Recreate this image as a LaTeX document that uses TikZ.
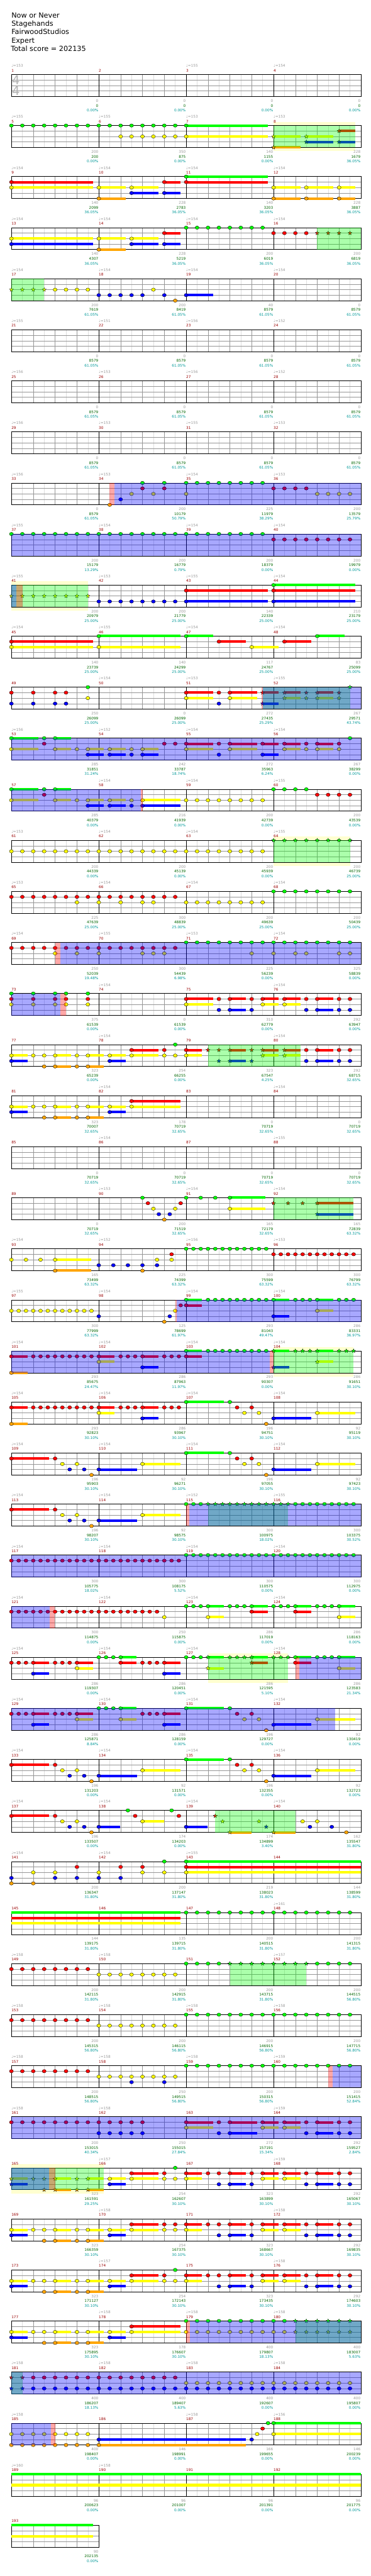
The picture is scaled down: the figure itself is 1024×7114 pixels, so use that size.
\documentclass[tikz,border=0pt]{standalone}
\usepackage{fontspec}
\setmainfont{DejaVu Sans}
\usetikzlibrary{shapes.geometric}
\definecolor{lane0}{RGB}{0,255,0}
\definecolor{lane1}{RGB}{255,0,0}
\definecolor{lane2}{RGB}{255,255,0}
\definecolor{lane3}{RGB}{0,0,255}
\definecolor{lane4}{RGB}{255,165,0}
\definecolor{mred}{RGB}{153,0,0}
\definecolor{lgrey}{RGB}{153,153,153}
\definecolor{lgreen}{RGB}{0,102,0}
\definecolor{lteal}{RGB}{0,153,153}
\definecolor{midgrey}{RGB}{150,150,150}
\definecolor{faint}{RGB}{222,222,222}
\definecolor{tsgrey}{RGB}{180,180,180}
\definecolor{bandyel}{RGB}{255,255,208}
\tikzset{
  chartrow/.style={shift={(31.5,{205.7+141*(#1-1)})}, x=60.33pt, y=-15.12pt},
  note/.style={draw=black, line width=0.6pt},
  starnote/.style={star, star points=5, star point ratio=2.4, minimum size=11.5pt, inner sep=0pt, draw=black, line width=0.5pt},
  eighthline/.style={draw=faint, line width=0.6pt},
  beatline/.style={draw=midgrey, line width=0.7pt},
  laneline/.style={draw=midgrey, line width=0.9pt},
  barline/.style={draw=black, line width=0.6pt},
  frame/.style={draw=black, line width=1.2pt},
  spgreen/.style={fill=lane0, fill opacity=0.33},
  spblue/.style={fill=lane3, fill opacity=0.34},
  spred/.style={fill=lane1, fill opacity=0.34},
  spband/.style={fill=bandyel},
  title/.style={anchor=base west, inner sep=0pt, font=\fontsize{19.5}{23}\selectfont},
  small/.style={inner sep=0pt, font=\fontsize{10}{12}\selectfont},
  mnum/.style={small, anchor=base west, yshift=7.7pt, text=mred},
  tempo/.style={small, anchor=base west, yshift=20.4pt, text=lgrey},
  lgray/.style={small, anchor=base east, xshift=-1pt, yshift=-15.8pt, text=lgrey},
  lscore/.style={small, anchor=base east, xshift=-1pt, yshift=-29.1pt, text=lgreen},
  lpct/.style={small, anchor=base east, xshift=-1pt, yshift=-42.1pt, text=lteal},
  timesig/.style={inner sep=0pt, font=\fontsize{34}{36}\selectfont, text=tsgrey}
}
% notes, stars and sustains (lane 0 = green ... lane 4 = orange)
\newcommand\nt[2]{\filldraw[note,fill=lane#1] ({#2},#1) ellipse [x radius=5.5pt,y radius=4.7pt];}
\newcommand\st[2]{\node[starnote,fill=lane#1] at ({#2},#1) {};}
\newcommand\nts[2]{\foreach \pp in {#2}{\nt{#1}{\pp}}}
\newcommand\sts[2]{\foreach \pp in {#2}{\st{#1}{\pp}}}
\newcommand\runn[4]{\foreach \kk in {1,...,#3}{\nt{#1}{#2+(\kk-1)*#4}}}
\newcommand\sruns[4]{\foreach \kk in {1,...,#3}{\st{#1}{#2+(\kk-1)*#4}}}
\newcommand\tailbar[3]{\fill[lane#1] ({#2},{#1-0.23}) rectangle ({#3},{#1+0.23});}
\newcommand\hold[3]{\tailbar{#1}{#2}{#3}\nt{#1}{#2}}
\newcommand\shold[3]{\tailbar{#1}{#2}{#3}\st{#1}{#2}}
\newcommand\trio[3]{\nts{#1}{#2,#2+0.3333,#2+0.6667}\hold{#1}{#2+1}{#3}}
% star power phrases and activations
\newcommand\sgreen[2]{\fill[spgreen] (#1,0) rectangle (#2,4);}
\newcommand\sblue[2]{\fill[spblue] (#1,0) rectangle (#2,4);}
\newcommand\sred[2]{\fill[spred] (#1,0) rectangle (#2,4);}
\newcommand\sband[2]{\fill[spband] (#1,-0.68) rectangle (#2,4.68);}
% staff of one row
\newcommand\chartgrid[1]{%
  \fill[white] (0,0) rectangle (#1,4);
  \pgfmathtruncatemacro\neig{2*#1-1}%
  \pgfmathtruncatemacro\nbt{#1-1}%
  \pgfmathtruncatemacro\nms{#1/4}%
  \foreach \kk in {1,...,\neig}{\draw[eighthline] ({\kk/2},0) -- ({\kk/2},4);}
  \foreach \kk in {1,...,\nbt}{\draw[beatline] (\kk,0) -- (\kk,4);}
  \foreach \lane in {1,2,3}{\draw[laneline] (0,\lane) -- (#1,\lane);}
  \foreach \kk in {1,...,\nms}{\draw[barline] ({4*\kk},0) -- ({4*\kk},4);}
  \draw[frame] (0,0) rectangle (#1,4);
}
\newcommand\qn{♩}
\newcommand\rowhead[2]{%
  \foreach \mi in {0,...,3}{\pgfmathtruncatemacro\mm{4*#1-3+\mi}\node[mnum] (m\mm) at (4*\mi,0) {\mm};}
  \foreach \mi/\bpm in {#2}{\node[tempo] at (4*\mi,0) {\qn=\bpm};}
}
\newcommand\labs[1]{\foreach \va/\vb/\vc [count=\mi] in {#1}{%
  \node[lgray] at (4*\mi,4) {\va};
  \node[lscore] at (4*\mi,4) {\vb};
  \node[lpct] at (4*\mi,4) {\vc\%};}}
% repeated passages
\newcommand\yohead[2]{#1{2}{0}{0.74}#1{3}{0}{0.74}#2{2}{1,1.5,3}#2{4}{1.5,3}#1{2}{2}{2.73}#1{4}{2}{2.73}#1{2}{3.5}{4.23}#1{4}{3.5}{4.23}}
\newcommand\midpart[1]{\hold{2}{4.5}{5.23}\hold{3}{4.5}{5.23}\hold{1}{5.5}{6.73}\hold{2}{5.5}{6.73}\nts{1}{7}\nts{2}{7,7.5}\nts{#1}{7.5}\hold{1}{8}{8.73}\hold{2}{8}{8.73}}
\newcommand\rbtail{\nts{1}{9.5,11,13.5,15,15.5}\nts{3}{9.5,11,13.5,15,15.5}\hold{1}{10}{10.74}\hold{3}{10}{10.74}\hold{1}{11.5}{12.24}\hold{2}{11.5}{12.24}\hold{1}{12.5}{13.24}\hold{2}{12.5}{13.24}\hold{1}{14}{14.74}\hold{3}{14}{14.74}}
\newcommand\bighead[1]{\hold{0}{0}{1.24}\nts{0}{1.5}\hold{0}{2}{2.74}\nts{1}{1.5}\hold{2}{0}{1.24}\hold{2}{2}{2.74}\nts{2}{3,5.5}\hold{2}{3.5}{4.23}\hold{2}{4.5}{5.23}\hold{2}{6}{#1}\hold{3}{3.5}{4.23}\hold{3}{4.5}{5.23}\nts{3}{5.5}\hold{3}{6}{#1}}
\newcommand\rfirst{\hold{1}{0}{0.74}\hold{4}{0}{0.74}\runn{1}{1}{9}{0.3333}\hold{1}{4}{4.73}\hold{2}{4}{4.73}\nts{1}{5,5.3333,5.6667}\hold{1}{6}{6.73}\hold{3}{6}{6.73}\nts{1}{7,7.3333,7.6667}}
\newcommand\rdesc{\hold{1}{0}{1.73}\nts{1}{2}\nts{2}{2.3333,3}\nts{3}{2.6667,3.3333}\nts{4}{3.6667}\hold{3}{4}{5.74}\hold{2}{6}{7.73}}
\newcommand\gtail{\hold{0}{8}{9.74}\nts{0}{10}\nts{1}{10.3333,11}\nts{2}{10.6667,11.3333}\nts{4}{11.6667}\hold{3}{12}{13.74}\hold{2}{14}{15.73}}
\begin{document}
\begin{tikzpicture}[x=1pt,y=-1pt]
\fill[white] (0,0) rectangle (1024,7114);
\useasboundingbox (0,0) rectangle (1024,7114);
% header
\node[title] (song) at (31.5,49.3) {Now or Never};
\node[title] (artist) at (31.5,72.3) {Stagehands};
\node[title] (charter) at (31.5,95.3) {FairwoodStudios};
\node[title] (level) at (31.5,118.3) {Expert};
\node[title] (total) at (30,141.3) {Total score = 202135};
% rows
\begin{scope}[chartrow=1]
  \chartgrid{16}\rowhead{1}{0/153,2/155,3/154}
  \node[timesig] (ts1) at (0.21,0.98) {4};
  \node[timesig] (ts2) at (0.21,2.96) {4};
  \labs{0/0/0.00,0/0/0.00,0/0/0.00,0/0/0.00}
\end{scope}
\begin{scope}[chartrow=2]
  \sband{12}{15.73}\chartgrid{16}\rowhead{2}{0/155,1/155,2/153,3/153}
  \runn{0}{0}{16}{0.5}\hold{0}{8}{11.74}\runn{2}{5}{6}{0.5}\hold{2}{8}{11.74}
  \shold{2}{12}{13.24}\shold{2}{13.5}{14.74}\shold{3}{13.5}{14.74}\shold{3}{15}{15.73}\shold{1}{15}{15.73}\shold{4}{12}{13.24}
  \sgreen{12}{15.73}
  \labs{200/200/0.00,350/875/0.00,140/1155/0.00,228/1679/36.05}
\end{scope}
\begin{scope}[chartrow=3]
  \chartgrid{16}\rowhead{3}{0/154,1/154,2/154,3/154}
  \hold{1}{0}{3.73}\hold{2}{0}{3.73}\hold{2}{4}{5.23}\hold{4}{4}{5.23}\hold{2}{5.5}{6.73}\hold{3}{5.5}{6.73}\hold{1}{7}{7.73}\hold{3}{7}{7.73}
  \hold{0}{8}{11.74}\hold{1}{8}{11.74}\hold{2}{12}{13.24}\hold{4}{12}{13.24}\hold{2}{13.5}{14.74}\hold{4}{13.5}{14.74}\hold{2}{15}{15.73}\hold{4}{15}{15.73}
  \labs{140/2099/36.05,228/2783/36.05,140/3203/36.05,228/3887/36.05}
\end{scope}
\begin{scope}[chartrow=4]
  \chartgrid{16}\rowhead{4}{0/154,1/154,2/154,3/154}
  \hold{2}{0}{3.73}\hold{3}{0}{3.73}\hold{2}{4}{5.23}\hold{4}{4}{5.23}\hold{2}{5.5}{6.73}\hold{3}{5.5}{6.73}\hold{1}{7}{7.73}\hold{3}{7}{7.73}
  \runn{0}{8}{8}{0.5}\runn{1}{12}{4}{0.5}\sruns{1}{14}{4}{0.5}
  \sgreen{14}{16}
  \labs{140/4307/36.05,228/5219/36.05,200/6019/36.05,200/6819/36.05}
\end{scope}
\begin{scope}[chartrow=5]
  \chartgrid{16}\rowhead{5}{0/154,1/154,2/154,3/154}
  \sruns{2}{0}{4}{0.5}\runn{2}{2}{4}{0.5}\nts{2}{6.5}\runn{3}{4}{5}{0.5}\nts{3}{7}\hold{3}{8}{9.23}\nts{4}{7.5}
  \sgreen{0}{1.5}
  \labs{200/7619/61.05,200/8419/61.05,40/8579/61.05,0/8579/61.05}
\end{scope}
\begin{scope}[chartrow=6]
  \chartgrid{16}\rowhead{6}{0/155,1/151,2/156,3/152}
  \labs{0/8579/61.05,0/8579/61.05,0/8579/61.05,0/8579/61.05}
\end{scope}
\begin{scope}[chartrow=7]
  \chartgrid{16}\rowhead{7}{0/156,1/153,2/156,3/152}
  \labs{0/8579/61.05,0/8579/61.05,0/8579/61.05,0/8579/61.05}
\end{scope}
\begin{scope}[chartrow=8]
  \chartgrid{16}\rowhead{8}{0/156,1/153,2/155,3/153}
  \labs{0/8579/61.05,0/8579/61.05,0/8579/61.05,0/8579/61.05}
\end{scope}
\begin{scope}[chartrow=9]
  \chartgrid{16}\rowhead{9}{0/156,1/153,2/154,3/153}
  \nts{4}{4.5}\nts{3}{5}\nts{2}{5.5,6.5,8}\runn{2}{14}{4}{0.5}\nts{1}{6,7}\runn{1}{12}{4}{0.5}\nts{0}{6,7}\runn{0}{8}{8}{0.5}
  \sred{4.49}{4.71}\sblue{4.71}{16}
  \labs{0/8579/61.05,200/10179/50.79,225/11979/38.29,200/13579/25.79}
\end{scope}
\begin{scope}[chartrow=10]
  \chartgrid{16}\rowhead{10}{0/155,1/154,2/154,3/154}
  \runn{0}{0}{24}{0.5}\runn{1}{12}{8}{0.5}
  \sblue{0}{16}
  \labs{200/15179/13.29,200/16779/0.79,200/18379/0.00,200/19979/0.00}
\end{scope}
\begin{scope}[chartrow=11]
  \sband{0}{3.5}\chartgrid{16}\rowhead{11}{0/155,1/153,2/155,3/154}
  \sruns{2}{0}{8}{0.5}\runn{3}{4}{8}{0.5}\hold{3}{8}{11.74}\hold{1}{8}{11.74}\hold{0}{12}{15.73}\hold{1}{12}{15.73}\hold{3}{12}{15.73}
  \sgreen{0}{3.5}\sblue{0}{0.24}\sred{0.24}{0.5}
  \labs{200/20979/25.00,200/21779/25.00,140/22339/25.00,210/23179/25.00}
\end{scope}
\begin{scope}[chartrow=12]
  \chartgrid{16}\rowhead{12}{0/154,1/155,2/154,3/154}
  \hold{1}{0}{3.73}\hold{2}{0}{3.73}\hold{0}{4}{7.73}\hold{2}{4}{7.73}\hold{0}{8}{9.23}\hold{1}{9.5}{10.74}\hold{2}{11}{12.24}\hold{1}{12.5}{13.74}\hold{0}{14}{15.24}
  \labs{140/23739/25.00,140/24299/25.00,117/24767/25.00,83/25099/25.00}
\end{scope}
\begin{scope}[chartrow=13]
  \chartgrid{16}\rowhead{13}{1/154,2/153,3/155}
  \nts{1}{0,1,2,2.5}\nts{3}{0,1,2,2.5}\nts{0}{3.5}\nts{2}{3.5}
  \hold{1}{8}{9.23}\hold{2}{8}{9.23}\nts{1}{9.5}\nts{3}{9.5}\hold{1}{10}{11.24}\hold{2}{10}{11.24}
  \shold{1}{11.5}{12.24}\shold{3}{11.5}{12.24}\shold{1}{12.5}{13.24}\shold{2}{12.5}{13.24}\sts{1}{13.5,15}\sts{2}{13.5,15}\shold{1}{14}{14.74}\shold{2}{14}{14.74}\sts{0}{15.5}
  \sgreen{11.5}{15.5}\sred{11.45}{11.5}\sblue{11.5}{16}
  \labs{250/26099/25.00,0/26099/25.00,272/27435/25.29,267/29571/43.74}
\end{scope}
\begin{scope}[chartrow=14]
  \chartgrid{16}\rowhead{14}{0/156,1/152,2/154,3/154}
  \bighead{6.73}
  \nts{1}{7,7.5,9.5,13.5,15}\hold{1}{8}{9.23}\hold{1}{10}{11.24}\hold{1}{11.5}{12.24}\hold{1}{12.5}{13.24}\hold{1}{14}{14.74}
  \hold{2}{8}{9.23}\hold{2}{10}{11.24}\hold{2}{12.5}{13.24}\nts{2}{13.5,15}\hold{2}{14}{14.74}\nts{3}{9.5}\hold{3}{11.5}{12.24}\nts{0}{15.5}
  \sblue{0}{16}
  \labs{285/31851/31.24,242/33787/18.74,272/35963/6.24,267/38299/0.00}
\end{scope}
\begin{scope}[chartrow=15]
  \chartgrid{16}\rowhead{15}{1/154,2/154,3/155}
  \bighead{7.73}\runn{2}{8}{8}{0.5}\runn{0}{12}{4}{0.5}\runn{1}{14}{4}{0.5}
  \sblue{0}{5.93}\sred{5.93}{6}
  \labs{285/40379/0.00,216/41939/0.00,200/42739/0.00,200/43539/0.00}
\end{scope}
\begin{scope}[chartrow=16]
  \sband{12}{15.5}\chartgrid{16}\rowhead{16}{0/153,1/154,2/154,3/155}
  \runn{2}{0}{24}{0.5}\sruns{0}{12}{8}{0.5}
  \sgreen{12}{15.5}
  \labs{200/44339/0.00,200/45139/0.00,200/45939/0.00,200/46739/25.00}
\end{scope}
\begin{scope}[chartrow=17]
  \chartgrid{16}\rowhead{17}{0/153,1/154,2/154,3/154}
  \runn{1}{0}{16}{0.5}\nts{2}{3,4,5,6,6.5}\runn{2}{8}{8}{0.5}\runn{0}{12}{8}{0.5}
  \labs{225/47639/25.00,300/48839/25.00,200/49639/25.00,200/50439/25.00}
\end{scope}
\begin{scope}[chartrow=18]
  \chartgrid{16}\rowhead{18}{0/154,1/155,2/153,3/154}
  \runn{1}{0}{16}{0.5}\nts{2}{2,3,4,6,6.5,7}\runn{0}{8}{16}{0.5}\nts{2}{11,12,13,13.5,15,15.5}
  \sred{2}{2.24}\sblue{2.24}{16}
  \labs{250/52039/19.48,300/54439/6.98,225/56239/0.00,325/58839/0.00}
\end{scope}
\begin{scope}[chartrow=19]
  \chartgrid{16}\rowhead{19}{1/154,3/154}
  \nts{0}{0,1,2,2.5,3.5}\nts{1}{0,1,2,2.5,3.5}\nts{2}{0,1,2,2.5,3.5}
  \hold{1}{8}{9.23}\hold{2}{8}{9.23}\rbtail
  \sblue{0}{2.24}\sred{2.24}{2.5}
  \labs{375/61539/0.00,0/61539/0.00,310/62779/0.00,292/63947/0.00}
\end{scope}
\begin{scope}[chartrow=20]
  \chartgrid{16}\rowhead{20}{1/154,3/154}
  \yohead{\hold}{\nts}\midpart{0}
  \sts{1}{9,9.5,11}\sts{3}{9.5,11}\shold{1}{10}{10.74}\shold{3}{10}{10.74}\shold{1}{11.5}{12.24}\shold{2}{11.5}{12.24}\shold{1}{12.5}{13.24}\shold{2}{12.5}{13.24}
  \nts{1}{13.5,15,15.5}\nts{3}{13.5,15,15.5}\hold{1}{14}{14.74}\hold{3}{14}{14.74}
  \sgreen{9}{13.24}
  \labs{323/65239/0.00,254/66255/0.00,323/67547/4.25,292/68715/32.65}
\end{scope}
\begin{scope}[chartrow=21]
  \chartgrid{16}\rowhead{21}{1/154,3/154}
  \yohead{\hold}{\nts}\hold{2}{4.5}{5.23}\hold{3}{4.5}{5.23}\hold{1}{5.5}{7.73}\hold{2}{5.5}{7.73}
  \labs{323/70007/32.65,178/70719/32.65,0/70719/32.65,0/70719/32.65}
\end{scope}
\begin{scope}[chartrow=22]
  \chartgrid{16}\rowhead{22}{1/154,3/155}
  \labs{0/70719/32.65,0/70719/32.65,0/70719/32.65,0/70719/32.65}
\end{scope}
\begin{scope}[chartrow=23]
  \chartgrid{16}\rowhead{23}{1/153,2/154,3/154}
  \nts{0}{6}\nts{1}{6.25,7.75}\nts{2}{6.5,7.5}\nts{3}{6.75,7.25}\nts{4}{7}
  \nts{0}{8,8.6667,9.3333}\hold{0}{10}{11.64}\hold{2}{10}{11.64}
  \sts{1}{12,12.6667,13.3333}\shold{1}{14}{15.65}\shold{3}{14}{15.65}
  \sgreen{12}{15.65}
  \labs{0/70719/32.65,200/71519/32.65,165/72179/32.65,165/72839/63.32}
\end{scope}
\begin{scope}[chartrow=24]
  \chartgrid{16}\rowhead{24}{0/154,1/152,2/156,3/153}
  \nts{2}{0,0.6667,1.3333}\hold{2}{2}{3.65}\hold{4}{2}{3.65}
  \nts{3}{4,4.6667,5.3333,6,6.6667}\nts{4}{6}\nts{2}{6.6667,7.3333}\nts{1}{7.3333}
  \runn{0}{8}{12}{0.3333}\runn{1}{12}{12}{0.3333}
  \labs{165/73499/63.32,225/74399/63.32,300/75599/63.32,300/76799/63.32}
\end{scope}
\begin{scope}[chartrow=25]
  \chartgrid{16}\rowhead{25}{0/155,1/154,2/154,3/154}
  \runn{2}{0}{12}{0.3333}\nts{3}{4,7.25}\nts{4}{7}\nts{2}{7.5}\nts{1}{7.75}\hold{1}{8}{8.73}\hold{0}{8}{8.73}
  \runn{0}{9}{9}{0.3333}\hold{0}{12}{12.73}\hold{3}{12}{12.73}\nts{0}{13,13.3333,13.6667}\hold{0}{14}{14.73}\hold{2}{14}{14.73}\nts{0}{15,15.3333,15.6667}
  \sred{7.5}{7.56}\sblue{7.56}{16}
  \labs{300/77999/63.32,125/78699/61.97,293/81043/49.47,286/83331/36.97}
\end{scope}
\begin{scope}[chartrow=26]
  \sband{12}{15.65}\chartgrid{16}\rowhead{26}{0/154,1/154,2/154,3/154}
  \rfirst\hold{1}{8}{8.73}\hold{0}{8}{8.73}\runn{0}{9}{9}{0.3333}
  \shold{0}{12}{12.73}\shold{3}{12}{12.73}\sts{0}{13,13.3333,13.6667}\shold{0}{14}{14.73}\shold{2}{14}{14.73}\sts{0}{15,15.3333,15.6667}
  \sgreen{12}{15.65}\sblue{0}{11.83}\sred{11.83}{12}
  \labs{293/85675/24.47,286/87963/11.97,293/90307/0.00,286/91651/30.10}
\end{scope}
\begin{scope}[chartrow=27]
  \chartgrid{16}\rowhead{27}{0/154,1/154,2/154,3/154}
  \rfirst\gtail
  \labs{293/92823/30.10,286/93967/30.10,196/94751/30.10,92/95119/30.10}
\end{scope}
\begin{scope}[chartrow=28]
  \chartgrid{16}\rowhead{28}{0/154,1/154,2/154,3/154}
  \rdesc\gtail
  \labs{196/95903/30.10,92/96271/30.10,196/97055/30.10,92/97423/30.10}
\end{scope}
\begin{scope}[chartrow=29]
  \chartgrid{16}\rowhead{29}{0/154,1/154,2/152,3/155}
  \rdesc\runn{0}{8}{3}{0.3333}\sruns{0}{9}{12}{0.3333}\runn{0}{13}{9}{0.3333}
  \sgreen{9}{12.65}\sred{8}{8.13}\sblue{8.13}{16}
  \labs{196/98207/30.10,92/98575/30.10,300/100975/18.02,300/103375/30.52}
\end{scope}
\begin{scope}[chartrow=30]
  \chartgrid{16}\rowhead{30}{0/154,1/154,2/154,3/154}
  \runn{1}{0}{24}{0.3333}\runn{0}{8}{24}{0.3333}
  \sblue{0}{16}
  \labs{300/105775/18.02,300/108175/5.52,300/110575/0.00,300/112975/0.00}
\end{scope}
\begin{scope}[chartrow=31]
  \chartgrid{16}\rowhead{31}{0/154,1/154,2/154,3/154}
  \runn{1}{0}{21}{0.3333}\nts{2}{7}
  \foreach \sx in {8,10,12,14}{\trio{0}{\sx}{\sx+1.74}}
  \hold{2}{9}{9.74}\hold{1}{11}{11.74}\hold{1}{13}{13.74}\hold{2}{15}{15.73}
  \sblue{0}{1.76}\sred{1.76}{1.98}
  \labs{300/114875/0.00,250/115875/0.00,286/117019/0.00,286/118163/0.00}
\end{scope}
\begin{scope}[chartrow=32]
  \sband{9}{12.65}\chartgrid{16}\rowhead{32}{0/154,1/154,2/154,3/154}
  \trio{1}{0}{1.73}\hold{3}{1}{1.73}\trio{1}{2}{3.73}\hold{2}{3}{3.73}\trio{0}{4}{5.73}\hold{1}{5}{5.73}\trio{1}{6}{7.73}\hold{3}{7}{7.73}
  \nts{0}{8,8.3333,8.6667}\shold{0}{9}{9.74}\shold{2}{9}{9.74}\sts{0}{10,10.3333,10.6667}\shold{0}{11}{11.74}\shold{1}{11}{11.74}\sts{0}{12,12.3333,12.6667}
  \hold{0}{13}{13.74}\hold{1}{13}{13.74}\trio{0}{14}{15.73}\hold{2}{15}{15.73}
  \sgreen{9}{12.65}\sred{13}{13.18}\sblue{13.18}{16}
  \labs{286/119307/0.00,286/120451/0.00,286/121595/5.10,286/123583/21.34}
\end{scope}
\begin{scope}[chartrow=33]
  \chartgrid{16}\rowhead{33}{0/154,1/154,2/154,3/154}
  \trio{1}{0}{1.73}\hold{3}{1}{1.73}\trio{1}{2}{3.73}\hold{2}{3}{3.73}\trio{0}{4}{5.73}\hold{2}{5}{5.73}\trio{1}{6}{7.73}\hold{3}{7}{7.73}\gtail
  \sblue{0}{14.81}
  \labs{286/125871/8.84,286/128159/0.00,196/129727/0.00,92/130419/0.00}
\end{scope}
\begin{scope}[chartrow=34]
  \chartgrid{16}\rowhead{34}{0/154,1/154,2/154,3/154}
  \rdesc\gtail
  \labs{196/131203/0.00,92/131571/0.00,196/132355/0.00,92/132723/0.00}
\end{scope}
\begin{scope}[chartrow=35]
  \chartgrid{16}\rowhead{35}{0/154,1/154,2/154,3/154}
  \hold{1}{0}{1.73}\nts{1}{2}\nts{2}{2.3333,3}\nts{3}{2.6667,3.3333}\nts{4}{3.6667}\hold{3}{4}{4.99}
  \nts{0}{5.3333,7.3333}\nts{1}{5.6667,7.6667}\hold{2}{6}{7}\hold{3}{8}{8.99}
  \sts{1}{9.3333}\sts{2}{9.6667,11.3333}\shold{4}{10}{11}\sts{3}{11.6667}\shold{4}{12}{13}
  \nts{2}{13.3333,14}\nts{3}{13.6667,14.6667}\nts{4}{15.3333}
  \sgreen{9.33}{13}
  \labs{196/133507/0.00,174/134203/0.00,174/134899/3.40,162/135547/31.80}
\end{scope}
\begin{scope}[chartrow=36]
  \chartgrid{16}\rowhead{36}{0/154,1/154,2/155}
  \nts{3}{0,2,3,4,5}\nts{4}{0,1}\nts{2}{1,2,4,6,7}\nts{1}{3,5,6}\nts{0}{7}
  \hold{0}{8}{16}\hold{1}{8}{16}\hold{2}{8}{16}
  \labs{200/136347/31.80,200/137147/31.80,219/138023/31.80,144/138599/31.80}
\end{scope}
\begin{scope}[chartrow=37]
  \chartgrid{16}\rowhead{37}{3/161}
  \tailbar{0}{0}{7.73}\tailbar{1}{0}{7.73}\tailbar{2}{0}{7.73}\runn{0}{8}{16}{0.5}
  \labs{144/139175/31.80,135/139715/31.80,200/140515/31.80,200/141315/31.80}
\end{scope}
\begin{scope}[chartrow=38]
  \chartgrid{16}\rowhead{38}{0/158,1/158,3/157}
  \runn{1}{0}{8}{0.5}\runn{2}{4}{8}{0.5}\runn{0}{8}{4}{0.5}\sruns{0}{10}{8}{0.5}\runn{0}{14}{4}{0.5}
  \sgreen{10}{13.5}
  \labs{200/142115/31.80,200/142915/31.80,200/143715/31.80,200/144515/56.80}
\end{scope}
\begin{scope}[chartrow=39]
  \chartgrid{16}\rowhead{39}{0/158,1/158,2/158,3/158}
  \runn{1}{0}{8}{0.5}\runn{2}{4}{8}{0.5}\runn{0}{8}{16}{0.5}
  \labs{200/145315/56.80,200/146115/56.80,200/146915/56.80,200/147715/56.80}
\end{scope}
\begin{scope}[chartrow=40]
  \chartgrid{16}\rowhead{40}{0/158,1/158,2/158,3/159}
  \runn{1}{0}{8}{0.5}\runn{2}{4}{8}{0.5}\nts{3}{5.5,7}\runn{0}{8}{16}{0.5}
  \sred{14.5}{14.72}\sblue{14.72}{16}
  \labs{200/148515/56.80,250/149515/56.80,200/150315/56.80,200/151415/52.84}
\end{scope}
\begin{scope}[chartrow=41]
  \chartgrid{16}\rowhead{41}{0/158,1/158,3/159}
  \runn{1}{0}{13}{0.5}\runn{3}{4}{5}{0.5}
  \hold{1}{8}{9.23}\hold{2}{8}{9.23}\nts{1}{9.5,13.5,15,15.5}\nts{3}{9.5,13.5,15,15.5}\hold{1}{10}{11.24}\hold{3}{10}{11.24}
  \hold{1}{11.5}{12.24}\hold{2}{11.5}{12.24}\hold{1}{12.5}{13.24}\hold{2}{12.5}{13.24}\hold{1}{14}{14.74}\hold{3}{14}{14.74}
  \sblue{0}{16}
  \labs{200/153015/40.34,250/155015/27.84,272/157191/15.34,292/159527/2.84}
\end{scope}
\begin{scope}[chartrow=42]
  \sband{0}{4.23}\chartgrid{16}\rowhead{42}{1/157,3/159}
  \yohead{\shold}{\sts}\midpart{0}\nts{1}{9}\rbtail
  \sgreen{0}{4.23}\sblue{0}{1.71}\sred{1.71}{2}
  \labs{323/161591/29.25,254/162607/30.10,323/163899/30.10,292/165067/30.10}
\end{scope}
\begin{scope}[chartrow=43]
  \chartgrid{16}\rowhead{43}{1/158,3/158}
  \yohead{\hold}{\nts}\midpart{1}\nts{1}{9}\rbtail
  \labs{323/166359/30.10,254/167375/30.10,323/168667/30.10,292/169835/30.10}
\end{scope}
\begin{scope}[chartrow=44]
  \chartgrid{16}\rowhead{44}{1/157,3/158}
  \yohead{\hold}{\nts}\midpart{0}\nts{1}{9}\rbtail
  \labs{323/171127/30.10,254/172143/30.10,323/173435/30.10,292/174603/30.10}
\end{scope}
\begin{scope}[chartrow=45]
  \chartgrid{16}\rowhead{45}{1/158,2/158,3/158}
  \yohead{\hold}{\nts}\hold{2}{4.5}{5.23}\hold{3}{4.5}{5.23}\hold{1}{5.5}{7.73}\hold{2}{5.5}{7.73}
  \runn{0}{8}{10}{0.5}\runn{2}{8}{10}{0.5}\sruns{0}{13}{6}{0.5}\sruns{2}{13}{6}{0.5}
  \sgreen{13}{16}\sred{8}{8.16}\sblue{8.16}{16}
  \labs{323/175895/30.10,178/176607/30.10,400/179807/18.13,400/183007/5.63}
\end{scope}
\begin{scope}[chartrow=46]
  \chartgrid{16}\rowhead{46}{0/158,1/158,2/158,3/158}
  \sts{1}{0,0.5}\sts{3}{0,0.5}\runn{1}{1}{14}{0.5}\runn{3}{1}{30}{0.5}\runn{2}{8}{16}{0.5}
  \sgreen{0}{0.5}\sblue{0}{16}
  \labs{400/186207/18.13,400/189407/5.63,400/192607/0.00,400/195807/0.00}
\end{scope}
\begin{scope}[chartrow=47]
  \chartgrid{16}\rowhead{47}{0/158,2/158,3/156}
  \runn{2}{0}{8}{0.5}\runn{4}{0}{8}{0.5}\hold{4}{4}{10.74}\hold{3}{4}{10.74}\nts{3}{11}\nts{2}{11.25}\nts{1}{11.5}\nts{0}{11.75}\hold{0}{12}{16}\hold{2}{12}{16}
  \sblue{0}{1.8}\sred{1.8}{2}
  \labs{400/198407/0.00,146/198991/0.00,166/199655/0.00,146/200239/0.00}
\end{scope}
\begin{scope}[chartrow=48]
  \chartgrid{16}\rowhead{48}{0/160,1/158}
  \tailbar{0}{0}{16}\tailbar{2}{0}{16}
  \labs{96/200623/0.00,96/201007/0.00,96/201391/0.00,96/201775/0.00}
\end{scope}
\begin{scope}[chartrow=49]
  \chartgrid{4}
  \node[mnum] (m193) at (0,0) {193};
  \tailbar{0}{0}{3.73}\tailbar{2}{0}{3.73}
  \labs{90/202135/0.00}
\end{scope}
\end{tikzpicture}
\end{document}
